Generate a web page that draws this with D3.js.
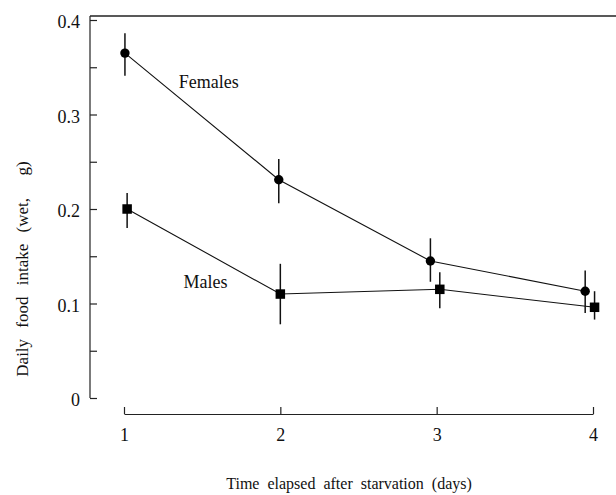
<!DOCTYPE html>
<html>
<head>
<meta charset="utf-8">
<script src="https://cdn.jsdelivr.net/npm/d3@7"></script>
<style>
  body { margin: 0; background: #fff; }
  text { font-family: "Liberation Serif", "DejaVu Serif", serif; fill: #111; }
</style>
</head>
<body>
<div id="chart-container"></div>
<script>
// Data
const days = [1, 2, 3, 4];
const femalesX = [1.006, 1.99, 2.96, 3.95];
const femalesMean = [0.365, 0.231, 0.145, 0.113];
const femalesLow = [0.341, 0.206, 0.123, 0.090];
const femalesHigh = [0.386, 0.253, 0.169, 0.135];
const malesX = [1.02, 2.0, 3.02, 4.01];
const malesMean = [0.200, 0.110, 0.115, 0.096];
const malesLow = [0.180, 0.078, 0.095, 0.083];
const malesHigh = [0.217, 0.142, 0.133, 0.113];
const yTicks = [0, 0.05, 0.1, 0.15, 0.2, 0.25, 0.3, 0.35, 0.4];

const width = 616;
const height = 495;

const svg = d3.select("#chart-container")
    .append("svg")
    .attr("width", width)
    .attr("height", height);

// Scales
const x = d3.scaleLinear().domain([1, 4]).range([124, 593]);
const y = d3.scaleLinear().domain([0, 0.4]).range([398, 20]);

const axisLeftX = 90;
const topY = 16;
const xAxisY = 414;

// Frame: top line and y axis line
svg.append("line")
    .attr("x1", axisLeftX).attr("x2", width)
    .attr("y1", topY).attr("y2", topY)
    .attr("stroke", "#222").attr("stroke-width", 1.3);

svg.append("line")
    .attr("x1", axisLeftX).attr("x2", axisLeftX)
    .attr("y1", topY).attr("y2", y(0))
    .attr("stroke", "#222").attr("stroke-width", 1.2);

// Y axis, ticks pointing inward
const yAxis = d3.axisLeft(y)
    .tickValues(yTicks)
    .tickSize(-7)
    .tickPadding(10)
    .tickFormat(d => {
        const k = Math.round(d * 100);
        if (k % 10 !== 0) return "";
        return k === 0 ? "0" : d.toFixed(1);
    });

const gy = svg.append("g")
    .attr("transform", `translate(${axisLeftX},0)`)
    .call(yAxis);
gy.select(".domain").remove();
gy.selectAll(".tick line").attr("stroke", "#222").attr("stroke-width", 1.2);
gy.selectAll(".tick text")
    .attr("dy", "0.42em")
    .style("font-size", "18px")
    .style("font-family", "'Liberation Serif', serif")
    .attr("fill", "#111");

// X axis, ticks pointing up
const xAxis = d3.axisBottom(x)
    .tickValues(days)
    .tickSizeInner(-7)
    .tickSizeOuter(0)
    .tickPadding(14)
    .tickFormat(d3.format("d"));

const gx = svg.append("g")
    .attr("transform", `translate(0,${xAxisY})`)
    .call(xAxis);
gx.select(".domain").attr("stroke", "#222").attr("stroke-width", 1.2);
gx.selectAll(".tick line").attr("stroke", "#222").attr("stroke-width", 1.2);
gx.selectAll(".tick text")
    .style("font-size", "18px")
    .style("font-family", "'Liberation Serif', serif")
    .attr("fill", "#111");

// Axis titles
svg.append("text")
    .attr("x", 349)
    .attr("y", 489)
    .attr("text-anchor", "middle")
    .style("font-size", "16px")
    .style("word-spacing", "4px")
    .text("Time elapsed after starvation (days)");

svg.append("text")
    .attr("transform", "translate(28,269) rotate(-90)")
    .attr("text-anchor", "middle")
    .style("font-size", "17px")
    .style("white-space", "pre")
    .style("word-spacing", "7px")
    .text("Daily food intake (wet,  g)");

// Series
const females = days.map((d, i) => ({ x: femalesX[i], v: femalesMean[i], lo: femalesLow[i], hi: femalesHigh[i] }));
const males = days.map((d, i) => ({ x: malesX[i], v: malesMean[i], lo: malesLow[i], hi: malesHigh[i] }));

const line = d3.line().x(d => x(d.x)).y(d => y(d.v));

[females, males].forEach(series => {
    svg.append("path")
        .datum(series)
        .attr("fill", "none")
        .attr("stroke", "#111")
        .attr("stroke-width", 1.1)
        .attr("d", line);

    svg.selectAll(null)
        .data(series)
        .enter().append("line")
        .attr("x1", d => x(d.x)).attr("x2", d => x(d.x))
        .attr("y1", d => y(d.lo)).attr("y2", d => y(d.hi))
        .attr("stroke", "#111")
        .attr("stroke-width", 1.5);
});

svg.selectAll(".dot")
    .data(females)
    .enter().append("circle")
    .attr("class", "dot")
    .attr("cx", d => x(d.x))
    .attr("cy", d => y(d.v))
    .attr("r", 4.7)
    .attr("fill", "#000");

const sq = 9.5;
svg.selectAll(".sq")
    .data(males)
    .enter().append("rect")
    .attr("class", "sq")
    .attr("x", d => x(d.x) - sq / 2)
    .attr("y", d => y(d.v) - sq / 2)
    .attr("width", sq)
    .attr("height", sq)
    .attr("fill", "#000");

// Series labels
svg.append("text")
    .attr("x", x(1.35))
    .attr("y", y(0.328))
    .style("font-size", "18px")
    .text("Females");

svg.append("text")
    .attr("x", x(1.38))
    .attr("y", y(0.116))
    .style("font-size", "18px")
    .text("Males");
</script>
</body>
</html>
